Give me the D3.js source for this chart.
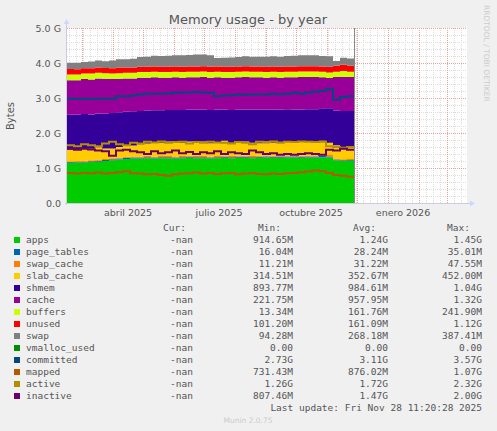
<!DOCTYPE html>
<html><head><meta charset="utf-8">
<script src="https://cdn.jsdelivr.net/npm/d3@7"></script>
<style>body{margin:0;background:#f0f0f0}svg{display:block}</style>
</head><body>
<svg id="chart" width="497" height="431"></svg>
<script>
// weekly samples, in G
const startDate = new Date(2025, 1, 14);
const apps = [1.15,1.16,1.16,1.17,1.18,1.20,1.22,1.24,1.26,1.27,1.27,1.28,1.27,1.28,1.28,1.27,1.28,1.29,1.28,1.28,1.27,1.28,1.29,1.28,1.29,1.29,1.28,1.29,1.30,1.29,1.29,1.30,1.30,1.29,1.30,1.30,1.31,1.30,1.22,1.20,1.21,1.20];
const pageTables = [0.02,0.02,0.02,0.02,0.03,0.03,0.03,0.03,0.03,0.03,0.03,0.03,0.03,0.03,0.03,0.03,0.03,0.03,0.03,0.03,0.03,0.03,0.03,0.03,0.03,0.03,0.03,0.03,0.03,0.03,0.03,0.03,0.03,0.03,0.03,0.03,0.03,0.03,0.02,0.02,0.02,0.02];
const swapCache = [0.02,0.02,0.03,0.03,0.03,0.03,0.03,0.03,0.04,0.03,0.03,0.03,0.03,0.03,0.03,0.03,0.03,0.03,0.03,0.03,0.03,0.03,0.03,0.03,0.03,0.03,0.03,0.03,0.03,0.03,0.03,0.03,0.03,0.03,0.03,0.03,0.04,0.04,0.03,0.03,0.03,0.03];
const slabCache = [0.33,0.32,0.34,0.33,0.35,0.30,0.28,0.30,0.32,0.31,0.35,0.36,0.40,0.38,0.42,0.40,0.38,0.41,0.40,0.42,0.38,0.40,0.43,0.38,0.40,0.41,0.38,0.36,0.35,0.37,0.36,0.40,0.38,0.42,0.40,0.41,0.40,0.35,0.38,0.34,0.36,0.33];
const shmem = [1.00,1.01,0.99,0.98,0.97,0.99,1.01,0.99,0.96,0.98,0.95,0.94,0.92,0.93,0.90,0.93,0.94,0.91,0.93,0.91,0.95,0.93,0.89,0.94,0.92,0.91,0.95,0.96,0.96,0.95,0.96,0.92,0.93,0.90,0.92,0.91,0.93,0.99,0.99,1.04,1.01,1.03];
const cache = [0.99,0.98,1.00,1.00,1.00,1.00,0.98,0.96,0.95,0.94,0.95,0.94,0.94,0.93,0.92,0.93,0.92,0.92,0.92,0.93,0.92,0.92,0.91,0.92,0.92,0.93,0.92,0.92,0.91,0.92,0.91,0.91,0.92,0.93,0.92,0.92,0.88,0.86,0.96,0.98,0.97,0.97];
const buffers = [0.16,0.16,0.16,0.17,0.16,0.16,0.15,0.16,0.16,0.16,0.16,0.16,0.16,0.16,0.16,0.16,0.16,0.16,0.16,0.16,0.16,0.16,0.16,0.16,0.16,0.16,0.16,0.16,0.16,0.16,0.16,0.16,0.16,0.16,0.16,0.16,0.16,0.16,0.15,0.16,0.15,0.16];
const unused = [0.16,0.15,0.15,0.15,0.15,0.15,0.15,0.16,0.15,0.15,0.15,0.15,0.15,0.15,0.15,0.15,0.15,0.15,0.15,0.15,0.15,0.15,0.15,0.15,0.15,0.15,0.15,0.15,0.15,0.15,0.15,0.15,0.15,0.15,0.15,0.15,0.15,0.16,0.17,0.18,0.17,0.18];
const swap = [0.18,0.19,0.18,0.19,0.20,0.19,0.22,0.24,0.24,0.25,0.28,0.29,0.31,0.31,0.32,0.32,0.33,0.33,0.34,0.33,0.33,0.24,0.26,0.27,0.27,0.28,0.28,0.28,0.29,0.29,0.29,0.30,0.31,0.31,0.31,0.31,0.30,0.30,0.14,0.20,0.21,0.22];
const committed = [2.98,2.98,2.98,2.97,2.98,2.98,2.98,3.05,3.05,3.07,3.10,3.12,3.12,3.12,3.13,3.15,3.16,3.16,3.17,3.16,3.15,3.05,3.07,3.08,3.10,3.09,3.10,3.10,3.10,3.12,3.11,3.12,3.15,3.12,3.16,3.18,3.20,3.25,2.95,3.03,3.05,3.04];
const mapped = [0.86,0.84,0.86,0.85,0.87,0.84,0.86,0.88,0.91,0.85,0.84,0.82,0.83,0.80,0.78,0.82,0.84,0.85,0.87,0.84,0.86,0.83,0.85,0.86,0.82,0.84,0.86,0.83,0.82,0.84,0.83,0.85,0.86,0.88,0.90,0.93,0.91,0.86,0.80,0.78,0.75,0.74];
const active = [1.65,1.62,1.68,1.65,1.62,1.70,1.75,1.68,1.65,1.72,1.70,1.75,1.73,1.76,1.72,1.74,1.75,1.70,1.74,1.72,1.75,1.73,1.72,1.70,1.74,1.72,1.68,1.75,1.74,1.76,1.73,1.75,1.74,1.76,1.75,1.74,1.75,1.62,1.60,1.58,1.60,1.58];
const inactive = [1.55,1.52,1.55,1.53,1.50,1.48,1.35,1.50,1.52,1.48,1.45,1.40,1.48,1.42,1.45,1.50,1.42,1.46,1.40,1.45,1.42,1.48,1.40,1.45,1.42,1.40,1.50,1.45,1.40,1.42,1.38,1.40,1.38,1.40,1.42,1.40,1.38,1.52,1.50,1.55,1.52,1.50];

const names = ["apps","page_tables","swap_cache","slab_cache","shmem","cache","buffers","unused","swap","vmalloc_used","committed","mapped","active","inactive"];
const colors = ["#00cc00","#0066b3","#ff8000","#ffcc00","#330099","#990099","#ccff00","#ff0000","#808080","#008f00","#00487d","#b35a00","#b38f00","#6b006b"];
const curCol = names.map(() => "-nan");
const minCol = ["914.65M","16.04M","11.21M","314.51M","893.77M","221.75M","13.34M","101.20M","94.28M","0.00","2.73G","731.43M","1.26G","807.46M"];
const avgCol = ["1.24G","28.24M","31.22M","352.67M","984.61M","957.95M","161.76M","161.09M","268.18M","0.00","3.11G","876.02M","1.72G","1.47G"];
const maxCol = ["1.45G","35.01M","47.55M","452.00M","1.04G","1.32G","241.90M","1.12G","387.41M","0.00","3.57G","1.07G","2.32G","2.00G"];
const yTicks = [0,1,2,3,4,5];
const yTickLabels = ["0.0","1.0 G","2.0 G","3.0 G","4.0 G","5.0 G"];
const monthLabels = [["abril 2025",new Date(2025,3,16)],["julio 2025",new Date(2025,6,16)],["octubre 2025",new Date(2025,9,16)],["enero 2026",new Date(2026,0,16)]];

const svg = d3.select("#chart");
const L = 67, R = 467, T = 28, B = 203;
const x = d3.scaleTime().domain([startDate, d3.timeDay.offset(startDate, 400)]).range([L, R]);
const y = d3.scaleLinear().domain([0, 5]).range([B, T]);
const dates = apps.map((_, i) => d3.timeDay.offset(startDate, i * 7));

svg.append("rect").attr("x", L).attr("y", T).attr("width", R - L).attr("height", B - T).attr("fill", "#fff");

// grid
const g = svg.append("g").attr("shape-rendering", "crispEdges");
d3.timeWeek.range(startDate, x.domain()[1]).forEach(d => {
    g.append("line").attr("x1", Math.round(x(d)) + .5).attr("x2", Math.round(x(d)) + .5).attr("y1", T).attr("y2", B)
        .attr("stroke", "#ddd").attr("stroke-dasharray", "1,1");
});
for (let v = 0.2; v < 5; v += 0.2) {
    g.append("line").attr("x1", L).attr("x2", R).attr("y1", Math.round(y(v)) + .5).attr("y2", Math.round(y(v)) + .5)
        .attr("stroke", "#ddd").attr("stroke-dasharray", "1,1");
}
d3.timeMonth.range(startDate, x.domain()[1]).forEach(d => {
    g.append("line").attr("x1", Math.round(x(d)) + .5).attr("x2", Math.round(x(d)) + .5).attr("y1", T).attr("y2", B)
        .attr("stroke", "#e8a0a0").attr("stroke-dasharray", "1,1");
});
yTicks.forEach(v => {
    g.append("line").attr("x1", L).attr("x2", R).attr("y1", Math.round(y(v)) + .5).attr("y2", Math.round(y(v)) + .5)
        .attr("stroke", "#e8a0a0").attr("stroke-dasharray", "1,1");
});

// stacked areas
const stackSeries = [apps, pageTables, swapCache, slabCache, shmem, cache, buffers, unused, swap];
const rows = dates.map((d, i) => {
    const r = {date: d};
    stackSeries.forEach((s, k) => r[k] = s[i]);
    return r;
});
const stack = d3.stack().keys(stackSeries.map((_, k) => k))(rows);
const area = d3.area().curve(d3.curveStepAfter).x(d => x(d.data.date)).y0(d => y(d[0])).y1(d => y(d[1]));
svg.append("g").selectAll("path").data(stack).join("path")
    .attr("d", area).attr("fill", (d, k) => colors[k]);

// lines
const lineSeries = [[committed, 10], [mapped, 11], [active, 12], [inactive, 13]];
const line = d3.line().curve(d3.curveStepAfter).x((d, i) => x(dates[i])).y(d => y(d));
lineSeries.forEach(([s, k]) => {
    svg.append("path").attr("d", line(s)).attr("fill", "none").attr("stroke", colors[k]).attr("stroke-width", 2);
});

// now line
svg.append("line").attr("x1", 354.5).attr("x2", 354.5).attr("y1", T).attr("y2", B).attr("stroke", "#888");

// axes
svg.append("line").attr("x1", L - 2).attr("x2", R + 4).attr("y1", B + .5).attr("y2", B + .5).attr("stroke", "#ccd");
svg.append("line").attr("x1", L - .5).attr("x2", L - .5).attr("y1", B + 2).attr("y2", T - 6).attr("stroke", "#ccd");
svg.append("path").attr("d", `M${R + 8},${B + .5}l-5,-3v6z`).attr("fill", "#ccd8ff");
svg.append("path").attr("d", `M${L - .5},${T - 9}l-3,5h6z`).attr("fill", "#ccd8ff");

const txt = {"font-family": "DejaVu Sans, sans-serif", "fill": "#555"};
yTicks.forEach((v, i) => {
    svg.append("text").attr("x", 61).attr("y", y(v) + 3.5).attr("text-anchor", "end")
        .attr("font-size", 9.5).attr("font-family", txt["font-family"]).attr("fill", txt.fill).text(yTickLabels[i]);
});
monthLabels.forEach(([t, d]) => {
    svg.append("text").attr("x", x(d)).attr("y", 216).attr("text-anchor", "middle")
        .attr("font-size", 9.5).attr("font-family", txt["font-family"]).attr("fill", txt.fill).text(t);
});
svg.append("text").attr("x", 248).attr("y", 24).attr("text-anchor", "middle").attr("font-size", 13)
    .attr("font-family", txt["font-family"]).attr("fill", "#555").text("Memory usage - by year");
svg.append("text").attr("transform", "translate(14,116) rotate(-90)").attr("text-anchor", "middle").attr("font-size", 10)
    .attr("font-family", txt["font-family"]).attr("fill", "#555").text("Bytes");
svg.append("text").attr("transform", "translate(484,5) rotate(90)").attr("font-size", 7.5)
    .attr("font-family", txt["font-family"]).attr("fill", "#ccc").text("RRDTOOL / TOBI OETIKER");

// legend
const mono = "DejaVu Sans Mono, monospace";
const lg = svg.append("g").attr("font-family", mono).attr("font-size", 9.5).attr("fill", "#555");
[["Cur:", 186], ["Min:", 281], ["Avg:", 376], ["Max:", 470]].forEach(([t, xx]) => {
    lg.append("text").attr("x", xx).attr("y", 231).attr("text-anchor", "end").text(t);
});
names.forEach((n, i) => {
    const yy = 243 + i * 12;
    lg.append("rect").attr("x", 14).attr("y", yy - 6).attr("width", 6).attr("height", 6).attr("fill", colors[i]);
    lg.append("text").attr("x", 26).attr("y", yy).text(n);
    lg.append("text").attr("x", 193).attr("y", yy).attr("text-anchor", "end").text(curCol[i]);
    lg.append("text").attr("x", 293).attr("y", yy).attr("text-anchor", "end").text(minCol[i]);
    lg.append("text").attr("x", 388).attr("y", yy).attr("text-anchor", "end").text(avgCol[i]);
    lg.append("text").attr("x", 482).attr("y", yy).attr("text-anchor", "end").text(maxCol[i]);
});
lg.append("text").attr("x", 482).attr("y", 411).attr("text-anchor", "end").text("Last update: Fri Nov 28 11:20:28 2025");
svg.append("text").attr("x", 248).attr("y", 423).attr("text-anchor", "middle").attr("font-size", 7.5)
    .attr("font-family", "DejaVu Sans, sans-serif").attr("fill", "#ccc").text("Munin 2.0.75");
</script>
</body></html>
